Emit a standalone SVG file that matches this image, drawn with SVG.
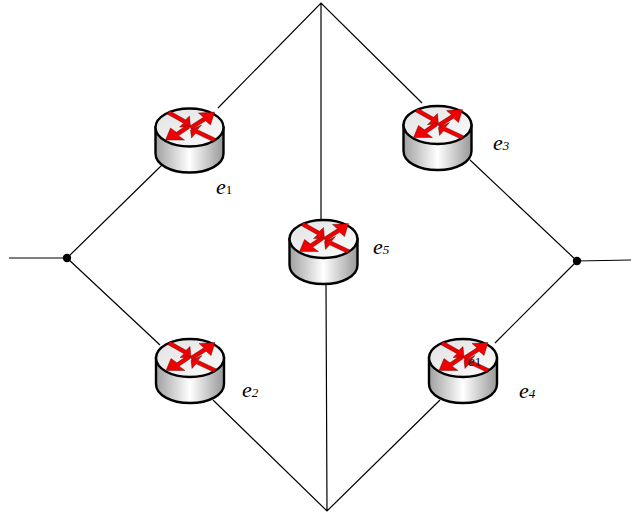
<svg xmlns="http://www.w3.org/2000/svg" width="631" height="512" viewBox="0 0 631 512">
<style>
.l{fill:none;stroke:#000;stroke-width:1.2}
.t{font-family:"Liberation Serif","Times New Roman",serif;fill:#000}
.e{font-size:22px;font-style:italic}
.s{font-size:13px}
.si{font-size:13px;font-style:italic}
.a{fill:#f00000;stroke:#400;stroke-width:.4;stroke-linejoin:miter}
</style>
<defs>
<linearGradient id="b" x1="0" x2="1" y1="0" y2="0"><stop offset="0" stop-color="#a0a0a0"/><stop offset=".5" stop-color="#fff"/><stop offset="1" stop-color="#989898"/></linearGradient>
<linearGradient id="c" x1="0" x2="1" y1="0" y2="1"><stop offset="0" stop-color="#e2e2e2"/><stop offset="1" stop-color="#fbfbfb"/></linearGradient>
<g id="router">
<path d="M-34 1V27C-34 38 -19 46 0 46S34 38 34 27V1Z" fill="url(#b)" stroke="#000" stroke-width="2.4"/>
<ellipse cx="0" cy="1" rx="34" ry="19" fill="url(#c)" stroke="#000" stroke-width="2.4"/>
<g transform="translate(0 1.500)">
<path class="a" d="M-22 -13.800L-6 -4.800L-10 -1L1 -1L0 -12L-4 -8.200L-20 -17.200Z"/>
<path class="a" d="M2.100 1.700L16.100 -7.300L21 -3L25 -16L9 -15L13.900 -10.700L-.1 -1.700Z"/>
<path class="a" d="M.1 .2L-10.900 7.700L-5 12L-24 12L-19 0L-13.100 4.300L-2.100 -3.200Z"/>
<path class="a" d="M25.900 10.200L7.900 1.700L12 -3L1 2L2 10L6.100 5.300L24.100 13.800Z"/>
</g>
</g>
</defs>
<g id="connectors">
<path class="l" d="M9 258H67M67 258L162 165M218 108L321 3L422 103M321 3V222M470 160L577 261M577 261L631 260M67 258L160 345M577 261L495 343M213 400L327 511L440 400M326 283L327 511"/>
<circle cx="67" cy="258" r="4.2" fill="#000"/>
<circle cx="577" cy="261" r="4.2" fill="#000"/>
</g>
<g id="e1"><use href="#router" x="189.500" y="126.500"/><text class="t" x="216" y="194"><tspan class="e">e</tspan><tspan class="s">1</tspan></text></g>
<g id="e2"><use href="#router" x="190" y="357"/><text class="t" x="242" y="397"><tspan class="e">e</tspan><tspan class="si">2</tspan></text></g>
<g id="e3"><use href="#router" x="437.500" y="124"/><text class="t" x="493" y="150"><tspan class="e">e</tspan><tspan class="si">3</tspan></text></g>
<g id="e4"><use href="#router" x="463" y="357"/><text class="t" x="468" y="366"><tspan style="font-size:15px;font-style:italic">e</tspan><tspan class="s">1</tspan></text><text class="t" x="519" y="398"><tspan class="e">e</tspan><tspan class="si">4</tspan></text></g>
<g id="e5"><use href="#router" x="323.500" y="238"/><text class="t" x="373" y="254"><tspan class="e">e</tspan><tspan class="si">5</tspan></text></g>
</svg>
